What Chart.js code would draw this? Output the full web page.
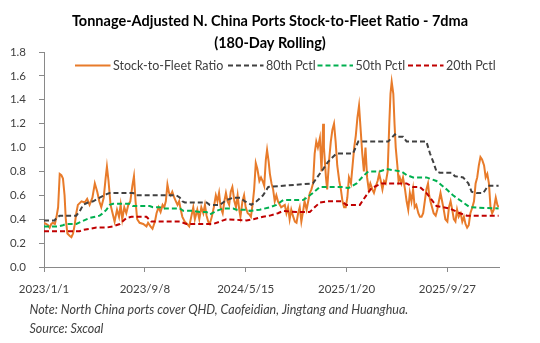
<!DOCTYPE html>
<html>
<head>
<meta charset="utf-8">
<script src="https://cdn.jsdelivr.net/npm/chart.js@4.4.1/dist/chart.umd.min.js"></script>
<style>
  html, body { margin: 0; padding: 0; background: #fff; }
</style>
</head>
<body>
<canvas id="ratioChart" width="540" height="343"></canvas>
<script>
// Days counted from 2023/1/1
const tickDays = [0, 250, 500, 750, 1000];
const tickLabels = ['2023/1/1', '2023/9/8', '2024/5/15', '2025/1/20', '2025/9/27'];

const ratioDays = [
    0, 6, 10, 14, 18, 22, 27, 31, 35, 39,
    43, 47, 51, 54, 58, 64, 68, 72, 76, 80,
    84, 93, 101, 107, 113, 120, 126, 132, 137, 142,
    148, 153, 156, 160, 165, 170, 175, 181, 186, 190,
    194, 199, 204, 209, 214, 219, 223, 227, 231, 237,
    246, 254, 258, 264, 269, 275, 279, 284, 289, 294,
    298, 302, 306, 310, 314, 318, 323, 327, 331, 335,
    339, 343, 349, 355, 360, 365, 370, 374, 380, 385,
    390, 395, 399, 403, 407, 411, 416, 421, 426, 430,
    434, 438, 443, 447, 451, 455, 459, 463, 467, 472,
    476, 480, 484, 487, 492, 496, 500, 505, 509, 513,
    517, 521, 525, 529, 534, 538, 542, 546, 550, 553,
    557, 560, 564, 568, 572, 576, 580, 588, 597, 601,
    605, 609, 613, 617, 622, 626, 630, 634, 638, 642,
    646, 651, 655, 659, 663, 667, 671, 675, 679, 684,
    688, 692, 694, 699, 702, 707, 711, 715, 719, 723,
    727, 732, 736, 740, 744, 748, 752, 756, 761, 765,
    769, 773, 777, 781, 785, 789, 793, 797, 801, 805,
    809, 814, 818, 823, 827, 831, 835, 839, 843, 847,
    852, 856, 859, 862, 866, 869, 872, 876, 879, 882,
    886, 890, 895, 899, 903, 907, 911, 915, 919, 923,
    928, 932, 936, 940, 944, 948, 952, 955, 958, 962,
    966, 971, 975, 979, 983, 987, 991, 995, 1000, 1004,
    1008, 1012, 1016, 1020, 1024, 1028, 1033, 1037, 1041, 1045,
    1049, 1053, 1057, 1062, 1066, 1070, 1074, 1078, 1082, 1086,
    1091, 1095, 1099, 1103, 1107, 1111, 1115, 1120, 1124, 1127
];
const ratioValues = [
    0.37, 0.36, 0.35, 0.33, 0.36, 0.37, 0.36, 0.42, 0.50, 0.78,
    0.77, 0.74, 0.60, 0.40, 0.28, 0.26, 0.25, 0.28, 0.35, 0.45,
    0.52, 0.55, 0.54, 0.57, 0.52, 0.58, 0.70, 0.63, 0.55, 0.50,
    0.58, 0.75, 0.84, 0.72, 0.52, 0.45, 0.38, 0.48, 0.42, 0.52,
    0.40, 0.50, 0.45, 0.52, 0.55, 0.68, 0.76, 0.55, 0.40, 0.37,
    0.36, 0.34, 0.37, 0.34, 0.32, 0.38, 0.45, 0.50, 0.46, 0.52,
    0.50, 0.55, 0.69, 0.62, 0.60, 0.63, 0.58, 0.55, 0.52, 0.55,
    0.48, 0.42, 0.38, 0.36, 0.34, 0.42, 0.50, 0.40, 0.48, 0.40,
    0.50, 0.45, 0.52, 0.43, 0.38, 0.36, 0.42, 0.50, 0.60, 0.55,
    0.62, 0.50, 0.45, 0.55, 0.62, 0.55, 0.52, 0.63, 0.67, 0.55,
    0.50, 0.60, 0.48, 0.42, 0.55, 0.60, 0.50, 0.45, 0.44, 0.42,
    0.52, 0.65, 0.87, 0.82, 0.72, 0.75, 0.72, 0.68, 0.90, 0.98,
    0.88, 0.78, 0.70, 0.65, 0.55, 0.60, 0.55, 0.50, 0.52, 0.45,
    0.50, 0.40, 0.48, 0.43, 0.38, 0.37, 0.45, 0.50, 0.38, 0.46,
    0.55, 0.48, 0.55, 0.62, 0.65, 0.70, 0.95, 1.05, 1.00, 1.08,
    0.80, 1.20, 1.00, 0.75, 0.65, 0.90, 1.05, 1.15, 1.20, 1.05,
    0.85, 0.72, 0.65, 0.55, 0.50, 0.50, 0.58, 0.75, 0.70, 0.85,
    1.00, 1.10, 1.25, 1.35, 1.15, 0.95, 0.80, 1.00, 0.75, 0.65,
    0.70, 0.65, 0.62, 0.68, 0.72, 0.78, 0.72, 0.65, 0.72, 0.70,
    0.80, 1.20, 1.45, 1.55, 1.45, 1.20, 1.00, 0.85, 0.72, 0.75,
    0.70, 0.75, 0.65, 0.55, 0.48, 0.62, 0.55, 0.65, 0.50, 0.52,
    0.45, 0.42, 0.42, 0.45, 0.55, 0.65, 0.70, 0.60, 0.55, 0.50,
    0.45, 0.43, 0.48, 0.55, 0.62, 0.55, 0.48, 0.40, 0.38, 0.50,
    0.55, 0.48, 0.40, 0.38, 0.48, 0.42, 0.45, 0.38, 0.42, 0.36,
    0.33, 0.35, 0.45, 0.50, 0.55, 0.70, 0.75, 0.85, 0.92, 0.90,
    0.85, 0.75, 0.78, 0.70, 0.50, 0.45, 0.48, 0.58, 0.52, 0.50
];

const p80Days = [0, 26, 31, 39, 80, 89, 97, 109, 122, 138, 155, 163, 221, 229, 328, 337, 343, 349, 403, 411,
    436, 444, 452, 469, 486, 498, 514, 527, 543, 556, 667, 675, 692, 704, 725, 766, 779, 853, 870, 878,
    890, 899, 948, 957, 965, 973, 981, 1010, 1019, 1039, 1052, 1060, 1072, 1089, 1101, 1127];
const p80Values = [0.39, 0.39, 0.41, 0.43, 0.43, 0.47, 0.52, 0.54, 0.55, 0.58, 0.61, 0.62, 0.62, 0.60, 0.60, 0.58, 0.55, 0.54, 0.54, 0.52,
    0.52, 0.54, 0.56, 0.58, 0.58, 0.55, 0.52, 0.55, 0.60, 0.67, 0.70, 0.74, 0.82, 0.88, 0.95, 0.95, 1.05, 1.05, 1.11, 1.09,
    1.09, 1.05, 1.05, 0.95, 0.88, 0.80, 0.79, 0.79, 0.76, 0.75, 0.70, 0.63, 0.62, 0.62, 0.68, 0.68];

const p50Days = [0, 35, 47, 55, 80, 93, 113, 138, 146, 155, 163, 171, 213, 221, 262, 270, 287, 295, 337, 345,
    370, 386, 403, 411, 428, 444, 469, 477, 502, 510, 535, 560, 576, 593, 642, 651, 667, 684, 741, 754,
    775, 791, 804, 832, 849, 886, 899, 915, 948, 973, 998, 1014, 1035, 1056, 1127];
const p50Values = [0.34, 0.34, 0.35, 0.36, 0.36, 0.38, 0.41, 0.43, 0.45, 0.48, 0.52, 0.53, 0.53, 0.51, 0.51, 0.50, 0.50, 0.49, 0.49, 0.47,
    0.47, 0.46, 0.46, 0.44, 0.47, 0.49, 0.49, 0.48, 0.48, 0.47, 0.48, 0.50, 0.52, 0.56, 0.56, 0.58, 0.62, 0.67, 0.67, 0.66,
    0.70, 0.76, 0.80, 0.80, 0.82, 0.80, 0.77, 0.75, 0.75, 0.72, 0.65, 0.60, 0.55, 0.50, 0.49];

const p20Days = [0, 55, 88, 97, 113, 130, 155, 171, 188, 204, 217, 254, 266, 337, 353, 419, 436, 452, 502, 519,
    543, 560, 580, 593, 626, 659, 671, 684, 704, 737, 750, 783, 799, 812, 837, 899, 915, 932, 948, 973,
    1006, 1031, 1048, 1127];
const p20Values = [0.30, 0.30, 0.30, 0.31, 0.32, 0.33, 0.33, 0.34, 0.36, 0.41, 0.42, 0.42, 0.38, 0.38, 0.36, 0.36, 0.38, 0.40, 0.39, 0.40,
    0.42, 0.43, 0.45, 0.47, 0.46, 0.46, 0.50, 0.54, 0.55, 0.55, 0.52, 0.52, 0.60, 0.66, 0.70, 0.70, 0.67, 0.67, 0.62, 0.51,
    0.49, 0.45, 0.43, 0.43];

const titleLines = ['Tonnage-Adjusted N. China Ports Stock-to-Fleet Ratio - 7dma', '(180-Day Rolling)'];
const noteLines = ['Note: North China ports cover QHD, Caofeidian, Jingtang and Huanghua.', 'Source: Sxcoal'];

const FONT = 'Lato';
const AXIS_GREY = '#898989';
const TEXT_GREY = '#404040';
// left edge of each legend entry
const legendX = [75, 228, 317.5, 408];

function toPoints(days, values) {
    return days.map((d, i) => ({ x: d, y: values[i] }));
}

function dashedSeries(label, days, values, color) {
    return {
        label: label,
        data: toPoints(days, values),
        borderColor: color,
        borderWidth: 2,
        borderDash: [5, 3],
        pointRadius: 0,
        tension: 0,
        order: 0
    };
}

// Title, overlaid legend and footnotes
const decorations = {
    id: 'decorations',
    afterDraw(chart) {
        const ctx = chart.ctx;
        ctx.save();
        ctx.textBaseline = 'middle';

        ctx.fillStyle = '#000';
        ctx.font = `bold 14.5px ${FONT}`;
        ctx.textAlign = 'center';
        ctx.fillText(titleLines[0], 270, 21);
        ctx.fillText(titleLines[1], 270, 43.5);

        ctx.font = `12.5px ${FONT}`;
        ctx.textAlign = 'left';
        const y = 65.5;
        chart.data.datasets.forEach((ds, i) => {
            const x = legendX[i];
            ctx.beginPath();
            ctx.strokeStyle = ds.borderColor;
            ctx.lineWidth = 2;
            ctx.setLineDash(ds.borderDash || []);
            ctx.moveTo(x, y);
            ctx.lineTo(x + 35.5, y);
            ctx.stroke();
            ctx.setLineDash([]);
            ctx.fillStyle = TEXT_GREY;
            ctx.fillText(ds.label, x + 38, y);
        });

        ctx.font = `italic 12.5px ${FONT}`;
        ctx.fillStyle = TEXT_GREY;
        noteLines.forEach((t, i) => ctx.fillText(t, 29.5, 309.5 + i * 19));
        ctx.restore();
    }
};

const ctx = document.getElementById('ratioChart').getContext('2d');
const chart = new Chart(ctx, {
    type: 'line',
    data: {
        datasets: [
            {
                label: 'Stock-to-Fleet Ratio',
                data: toPoints(ratioDays, ratioValues),
                borderColor: '#E87B2A',
                borderWidth: 2,
                pointRadius: 0,
                tension: 0,
                order: 1
            },
            dashedSeries('80th Pctl', p80Days, p80Values, '#404040'),
            dashedSeries('50th Pctl', p50Days, p50Values, '#00B050'),
            dashedSeries('20th Pctl', p20Days, p20Values, '#C00000')
        ]
    },
    options: {
        responsive: false,
        animation: false,
        layout: {
            padding: { top: 52, left: 0, right: 41, bottom: 46 }
        },
        plugins: {
            legend: { display: false },
            tooltip: { enabled: false }
        },
        scales: {
            x: {
                type: 'linear',
                min: 0,
                max: 1128,
                afterBuildTicks: scale => {
                    scale.ticks = tickDays.map(v => ({ value: v }));
                },
                afterFit: scale => { scale.height = 30; },
                ticks: {
                    color: TEXT_GREY,
                    font: { family: FONT, size: 11.5 },
                    padding: 10,
                    maxRotation: 0,
                    callback: value => tickLabels[tickDays.indexOf(value)]
                },
                grid: { drawOnChartArea: false, tickLength: 5, color: AXIS_GREY },
                border: { color: AXIS_GREY }
            },
            y: {
                min: 0,
                max: 1.8,
                afterFit: scale => { scale.width = 44; },
                ticks: {
                    stepSize: 0.2,
                    color: TEXT_GREY,
                    font: { family: FONT, size: 11.5 },
                    padding: 13,
                    callback: value => value.toFixed(1)
                },
                grid: { drawOnChartArea: false, tickLength: 5, color: AXIS_GREY },
                border: { color: AXIS_GREY }
            }
        }
    },
    plugins: [decorations]
});
</script>
</body>
</html>
